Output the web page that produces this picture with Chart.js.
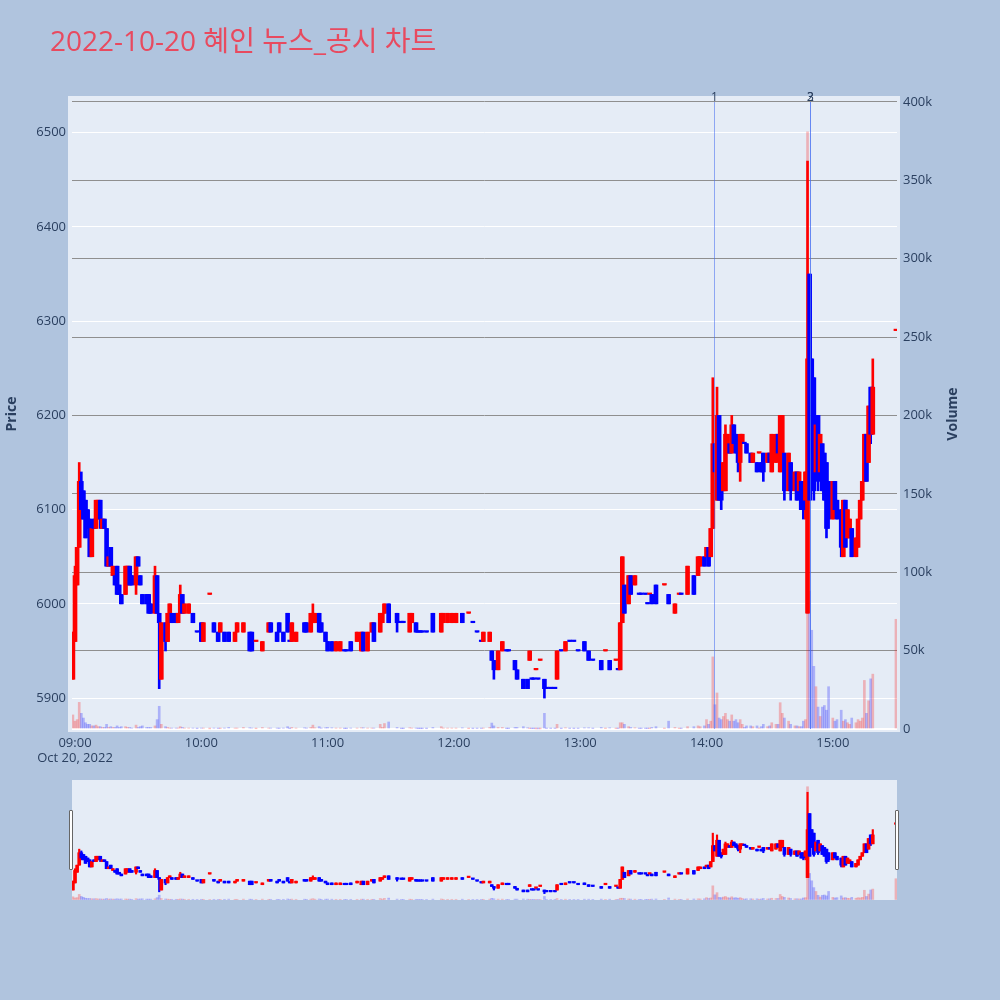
<!DOCTYPE html>
<html><head><meta charset="utf-8">
<script src="https://cdn.jsdelivr.net/npm/chart.js@4.4.0/dist/chart.umd.min.js"></script>
<style>
html,body{margin:0;padding:0;background:#b0c4de;}
#wrap{position:relative;width:1000px;height:1000px;background:#b0c4de;overflow:hidden;}
#main{position:absolute;left:0;top:0;}
#mini{position:absolute;left:72px;top:780px;}
.handle{position:absolute;width:2px;height:58px;top:810px;background:#fff;border:1px solid #666;border-radius:1px;}
</style></head><body>
<div id="wrap">
<canvas id="main" width="1000" height="770"></canvas>
<canvas id="mini" width="825" height="120"></canvas>
<div class="handle" style="left:69px"></div>
<div class="handle" style="left:895px"></div>
</div>
<script>
const TITLE = '2022-10-20 혜인 뉴스_공시 차트';
const DATE_LABEL = 'Oct 20, 2022';

// ---- candle data (1-minute) ----
const times = [
 '08:59','09:00','09:01','09:02','09:03','09:04','09:05','09:06','09:07','09:08','09:09','09:10','09:11','09:12','09:13','09:14','09:15','09:16','09:17','09:18','09:19','09:20','09:21','09:22','09:24','09:25','09:26','09:27','09:29','09:30','09:31','09:32','09:34','09:35','09:36','09:38','09:39','09:40','09:41','09:43','09:44','09:45','09:46','09:48','09:49','09:50','09:51','09:52','09:54','09:56','09:58',
 '10:00','10:01','10:04','10:06','10:08','10:09','10:11','10:13','10:16','10:17','10:20','10:23','10:24','10:26','10:29','10:32','10:33','10:36','10:37','10:39','10:41','10:42','10:43','10:45','10:49','10:50','10:52','10:53','10:54','10:56','10:57','10:59',
 '11:00','11:02','11:04','11:06','11:08','11:09','11:11','11:14','11:16','11:17','11:19','11:21','11:22','11:25','11:26','11:27','11:29','11:33','11:35','11:36','11:39','11:40','11:42','11:43','11:44','11:45','11:47','11:50','11:54','11:55','11:57','11:59',
 '12:01','12:04','12:07','12:09','12:11','12:13','12:14','12:17','12:18','12:19','12:21','12:23','12:25','12:26','12:29','12:30','12:33','12:35','12:36','12:37','12:38','12:39','12:40','12:41','12:43','12:44','12:46','12:48','12:49','12:51','12:53','12:55','12:57','12:59',
 '13:02','13:04','13:06','13:10','13:12','13:14','13:17','13:18','13:19','13:20','13:21','13:23','13:24','13:26','13:28','13:29','13:31','13:32','13:33','13:34','13:36','13:40','13:42','13:45','13:47','13:48','13:51','13:54','13:56','13:57','13:59',
 '14:00','14:01','14:02','14:03','14:04','14:05','14:06','14:07','14:08','14:09','14:10','14:11','14:12','14:13','14:14','14:15','14:16','14:17','14:18','14:19','14:21','14:22','14:24','14:25','14:26','14:27','14:29','14:30','14:31','14:33','14:34','14:35','14:36','14:37','14:39','14:40','14:42','14:43','14:44','14:45','14:46','14:47','14:48','14:49','14:50','14:51','14:52','14:53','14:54','14:55','14:56','14:57','14:58',
 '15:00','15:01','15:02','15:04','15:05','15:06','15:07','15:08','15:09','15:11','15:12','15:13','15:14','15:15','15:16','15:17','15:18','15:19','15:30'
];
const opens = [
 5920,5960,6020,6060,6130,6120,6110,6100,6090,6050,6090,6080,6090,6110,6080,6090,6080,6040,6060,6030,6030,6040,6020,6010, 6010,6020,6040,6030, 6020,6050,6030,6010, 6010,6010,6000, 5990,6030,5990,5920, 5980,5960,5990,5990, 5990,5980,5990,6010,5990, 5990,5990,5970,
 5980,5960,6010,5980,5970,5970,5970,5970, 5960,5970,5970,5970,5970,5960,5950, 5970,5980,5970,5980,5970, 5990,5960,5960,5960, 5980,5980,5970,5980,5980, 5990,5980,5970,
 5960,5960,5950,5950,5950,5950, 5960,5960,5950,5970,5950, 5970,5980,5970,5980,5990,6000, 5990,5980,5980,5970,5980,5980, 5970,5970,5970,5970, 5990,5970,5980,5980,5980,
 5980,5990,5990,5980,5970,5960, 5960,5960,5950,5940,5930,5950, 5950,5950,5940,5930,5920,5920, 5940,5920,5920,5930,5920,5940, 5920,5910,5910,5910,5920, 5950,5950,5960,5960,5950,
 5960,5950,5940,5940,5950,5940, 5940,5930,5930,5980,6020, 6000,6030,6020,6010,6010, 6010,6000,6010,6010,6020, 6020,6010,5990,6010,6010, 6010,6030,6030,6040,6050,
 6050,6060,6050,6080,6170,6110,6200,6130,6120,6120,6160,6170,6160,6190,6180,6170,6150,6170,6170,6170, 6160,6150,6150,6160,6150,6160, 6150,6160,6140,6150,6180, 6140,6160,6160,6120,6150, 6120,6140,6120,6130,6130,6110, 5990,6350,6260,6240,6140,6200,6140,6170,6160,6150,6130,
 6090,6130,6110,6100,6050,6110,6070,6070,6080,6050,6060,6090,6110,6130,6180,6150,6230,6180,6290
];
const highs = [
 5970,6040,6060,6150,6140,6120,6110,6100,6090,6080,6090,6110,6110,6110,6090,6090,6080,6050,6060,6040,6030,6040,6020,6010, 6040,6040,6040,6030, 6050,6050,6030,6010, 6010,6010,6000, 6040,6030,5990,5980, 5980,5990,6000,5990, 5990,5990,6020,6010,6000, 6000,5990,5970,
 5980,5980,6010,5980,5970,5980,5970,5970, 5970,5980,5980,5970,5970,5960,5960, 5980,5980,5970,5980,5970, 5990,5960,5980,5970, 5980,5980,5990,6000,5990, 5990,5980,5970,
 5960,5960,5960,5960,5950,5950, 5960,5970,5970,5970,5970, 5980,5980,5990,5990,6000,6000, 5990,5980,5980,5990,5990,5980, 5970,5970,5970,5970, 5990,5990,5990,5990,5990,
 5990,5990,5990,5980,5970,5960, 5970,5970,5950,5940,5950,5960, 5950,5950,5940,5930,5920,5920, 5950,5920,5920,5930,5920,5940, 5920,5910,5910,5910,5950, 5950,5960,5960,5960,5950,
 5960,5950,5940,5940,5950,5940, 5940,5930,5980,6050,6020, 6030,6030,6030,6010,6010, 6010,6000,6010,6010,6020, 6020,6010,6000,6010,6010, 6040,6030,6050,6050,6050,
 6060,6060,6080,6240,6170,6230,6200,6130,6150,6190,6180,6170,6200,6190,6180,6170,6180,6180,6170,6170, 6160,6160,6150,6160,6150,6160, 6160,6160,6180,6180,6180, 6200,6200,6160,6160,6150, 6140,6140,6140,6130,6130,6140, 6470,6350,6260,6240,6190,6200,6180,6170,6160,6150,6130,
 6130,6130,6110,6100,6110,6110,6100,6090,6080,6070,6090,6110,6130,6180,6180,6210,6230,6260,6290
];
const lows = [
 5920,5960,6020,6060,6090,6090,6070,6080,6050,6050,6080,6080,6090,6080,6080,6080,6040,6040,6040,6030,6020,6010,6010,6000, 6010,6020,6020,6020, 6010,6040,6020,6000, 6000,5990,5990, 5990,5990,5910,5920, 5950,5960,5990,5980, 5980,5980,5990,5990,5990, 5990,5980,5970,
 5960,5960,6010,5970,5960,5970,5960,5960, 5960,5970,5970,5950,5950,5960,5950, 5970,5970,5960,5970,5960, 5970,5960,5960,5960, 5970,5970,5970,5980,5980, 5970,5970,5960,
 5950,5950,5950,5950,5950,5950, 5950,5960,5950,5950,5950, 5970,5960,5970,5980,5990,5980, 5970,5980,5980,5970,5980,5970, 5970,5970,5970,5970, 5970,5970,5980,5980,5980,
 5980,5980,5990,5980,5970,5960, 5960,5960,5940,5920,5930,5950, 5950,5950,5930,5920,5910,5910, 5940,5920,5920,5930,5920,5940, 5900,5910,5910,5910,5920, 5950,5950,5960,5960,5950,
 5950,5940,5940,5930,5950,5930, 5940,5930,5930,5980,5990, 6000,6010,6020,6010,6010, 6010,6000,6010,6000,6000, 6020,6000,5990,6010,6010, 6010,6010,6030,6040,6040,
 6050,6040,6050,6080,6140,6110,6110,6100,6120,6120,6160,6160,6160,6170,6160,6140,6130,6170,6170,6160, 6150,6150,6140,6160,6140,6130, 6150,6150,6140,6150,6160, 6140,6160,6110,6120,6110, 6120,6110,6120,6100,6090,6090, 5990,6110,6160,6110,6140,6120,6140,6120,6110,6070,6080,
 6090,6100,6090,6050,6050,6060,6070,6070,6050,6050,6060,6090,6110,6130,6130,6150,6170,6180,6290
];
const closes = [
 5970,6030,6060,6130,6100,6090,6070,6080,6050,6080,6080,6110,6110,6090,6090,6080,6040,6050,6040,6040,6020,6010,6010,6000, 6040,6040,6020,6020, 6050,6040,6020,6000, 6000,5990,5990, 6030,5990,5980,5980, 5960,5990,6000,5980, 5980,5990,6010,5990,6000, 6000,5980,5970,
 5960,5980,6010,5970,5960,5980,5960,5960, 5970,5980,5980,5950,5950,5960,5960, 5980,5970,5960,5970,5960, 5970,5960,5980,5970, 5970,5970,5990,5990,5990, 5970,5970,5960,
 5950,5950,5960,5960,5950,5950, 5950,5970,5970,5950,5970, 5980,5960,5990,5990,6000,5980, 5980,5980,5980,5990,5990,5970, 5970,5970,5970,5970, 5970,5990,5990,5990,5990,
 5990,5980,5990,5980,5970,5960, 5970,5970,5940,5930,5950,5960, 5950,5950,5930,5920,5910,5910, 5950,5920,5920,5930,5920,5940, 5910,5910,5910,5910,5950, 5950,5960,5960,5960,5950,
 5950,5940,5940,5930,5950,5930, 5940,5930,5980,6050,5990, 6030,6010,6030,6010,6010, 6010,6000,6010,6000,6000, 6020,6000,6000,6010,6010, 6040,6010,6050,6050,6040,
 6060,6040,6080,6170,6140,6200,6110,6110,6150,6180,6180,6160,6190,6170,6160,6150,6180,6180,6170,6160, 6150,6160,6140,6160,6140,6140, 6160,6150,6180,6180,6160, 6200,6200,6120,6160,6120, 6140,6110,6140,6100,6100,6140, 6260,6110,6160,6120,6190,6130,6180,6120,6110,6080,6090,
 6130,6100,6090,6060,6110,6060,6100,6090,6050,6070,6090,6110,6130,6180,6130,6210,6180,6230,6290
];
const volumes = [
 9000,5000,6000,17000,10000,7000,4000,3000,3000,2000,2000,2500,1500,1500,1000,1000,3000,1000,1500,1000,1000,2000,1000,1500, 1500,1000,1000,500, 2500,1000,1500,2000, 1000,1000,1000, 2000,6000,14500,3000, 1500,1000,500,500, 500,500,1500,1000,500, 500,500,200,
 500,500,100,500,300,300,500,1000, 500,500,1000,800,600,200,1000, 500,500,500,300,500, 1500,200,1000,500, 800,500,1000,2500,800, 1500,500,800,
 1000,800,500,500,200,200, 500,500,800,800,500, 500,500,3000,1000,3500,4500, 1000,200,200,800,500,500, 200,200,200,200, 1000,1500,500,500,500,
 500,800,200,200,300,300, 500,1000,3800,2000,1000,1000, 200,200,1000,1000,1500,800, 300,200,200,100,100,100, 10000,300,300,300,3000, 200,800,300,200,300,
 800,800,300,1000,300,800, 300,300,4000,4000,3000, 1500,1000,800,300,300, 300,300,300,1000,1500, 300,5000,1000,300,300, 1500,1500,2000,1500,2000,
 6000,3000,5000,46000,15500,23000,7000,6000,8000,10000,6000,5000,9000,5000,6000,4000,6000,3000,1000,2000, 2000,1500,2000,500,1500,3000, 1500,2000,4000,3000,3000, 16800,10000,7000,5000,3000, 2000,2000,1500,1500,5000,6000, 381000,88000,63000,40000,27000,14000,8000,14000,15000,12000,27000,
 7000,5000,6000,12000,5000,6000,4000,3000,7000,4000,6000,5000,7000,31000,10000,18000,32000,35000,70000
];

// ---- axes ----
const priceTicks = [5900,6000,6100,6200,6300,6400,6500];
const volumeTicks = [0,50000,100000,150000,200000,250000,300000,350000,400000];
const timeTicks = ['09:00','10:00','11:00','12:00','13:00','14:00','15:00'];

// ---- news / disclosure markers ----
const newsTimes = ['14:03:35','14:49:10','14:49:10'];
const newsLabels = ['1','2','3'];

[opens,highs,lows,closes,volumes].forEach(a=>{ if(a.length!==times.length) throw new Error('length mismatch '+a.length+' vs '+times.length); });

Chart.defaults.font.family = '"Open Sans", "Noto Sans CJK KR", sans-serif';
const AX = '#2a3f5f';
function toMin(t){ const p=t.split(':').map(Number); return (p[0]-9)*60+p[1]+(p[2]||0)/60; }
const xs = times.map(toMin);
const up = closes.map((c,i)=> c>opens[i] || (c===opens[i] && i>0 && c>closes[i-1]));
const candleCol = up.map(u=>u?'#ff0000':'#0000ff');
const volCol = up.map(u=>u?'rgba(255,0,0,0.25)':'rgba(0,0,255,0.25)');

function makeDatasets(bodyW, wickW, volW){
  return [
    {label:'Volume', yAxisID:'yV', data: xs.map((x,i)=>({x:x, y:volumes[i]})), backgroundColor: volCol, barThickness: volW, grouped:false, order:3},
    {label:'wick', yAxisID:'y', data: xs.map((x,i)=>({x:x, y:[lows[i],highs[i]]})), backgroundColor: candleCol, barThickness: wickW, grouped:false, order:2},
    {label:'body', yAxisID:'y', data: xs.map((x,i)=>({x:x, y:[opens[i],closes[i]]})), backgroundColor: candleCol, barThickness: bodyW, minBarLength:1.5, grouped:false, order:1}
  ];
}
const X_MIN=-1.43, X_MAX=390.5, P_MIN=5864, P_MAX=6539, V_MIN=-1900, V_MAX=403800;

const mainDeco = {
  id:'mainDeco',
  beforeDraw(chart){
    const {ctx, chartArea:a} = chart;
    ctx.save(); ctx.fillStyle='#e5ecf6';
    ctx.fillRect(a.left-4, a.top, a.right-a.left+7, a.bottom-a.top);
    ctx.restore();
  },
  afterDatasetsDraw(chart){
    const {ctx} = chart; const xS = chart.scales.x, vS = chart.scales.yV;
    ctx.save();
    newsTimes.forEach((t,i)=>{
      const x = Math.round(xS.getPixelForValue(toMin(t)))+0.5;
      const y0 = vS.getPixelForValue(400000), y1 = vS.getPixelForValue(0);
      ctx.strokeStyle='rgba(70,110,240,0.55)'; ctx.lineWidth=1;
      ctx.beginPath(); ctx.moveTo(x,y0); ctx.lineTo(x,y1); ctx.stroke();
      ctx.fillStyle=AX; ctx.font='12px "Open Sans"'; ctx.textAlign='center'; ctx.textBaseline='alphabetic';
      ctx.fillText(newsLabels[i], x, y0-1);
    });
    ctx.restore();
  },
  afterDraw(chart){
    const {ctx, chartArea:a} = chart;
    ctx.save(); ctx.fillStyle='#e84a5f'; ctx.font='28px "Open Sans", "Noto Sans CJK KR"';
    ctx.textAlign='left'; ctx.textBaseline='alphabetic';
    ctx.fillText(TITLE, 50, 51); ctx.restore();
    // right axis title, reading bottom-to-top like the left one
    ctx.save(); ctx.translate(953, (a.top+a.bottom)/2); ctx.rotate(-Math.PI/2);
    ctx.fillStyle=AX; ctx.font='bold 14px "Open Sans"'; ctx.textAlign='center'; ctx.textBaseline='middle';
    ctx.fillText('Volume', 0, 0); ctx.restore();
  }
};

new Chart(document.getElementById('main'), {
  type:'bar',
  data:{ datasets: makeDatasets(4, 2, 2) },
  options:{
    responsive:false, animation:false,
    layout:{ padding:{ top:96, right:35, left:0, bottom:0 } },
    plugins:{ legend:{display:false}, tooltip:{enabled:false} },
    scales:{
      x:{ type:'linear', min:X_MIN, max:X_MAX, offset:false,
          grid:{display:false, offset:false, drawTicks:false}, border:{display:false},
          afterBuildTicks: s=>{ s.ticks = timeTicks.map(t=>({value:toMin(t)})); },
          ticks:{ color:AX, font:{size:13}, padding:3, maxRotation:0, autoSkip:false,
                  callback:(v,i)=> i===0 ? [timeTicks[0], DATE_LABEL] : timeTicks[i] },
          afterFit: s=>{ s.height = 38; } },
      y:{ position:'left', min:P_MIN, max:P_MAX,
          afterBuildTicks: s=>{ s.ticks = priceTicks.map(v=>({value:v})); },
          grid:{ color:'#ffffff', lineWidth:1, drawTicks:false }, border:{display:false},
          ticks:{ color:AX, font:{size:13}, padding:6, callback: v=> String(v) },
          title:{ display:true, text:'Price', color:AX, font:{size:14, weight:'bold'} },
          afterFit: s=>{ s.width = 72; } },
      yV:{ position:'right', min:V_MIN, max:V_MAX,
          afterBuildTicks: s=>{ s.ticks = volumeTicks.map(v=>({value:v})); },
          grid:{ color: c=> c.tick && c.tick.value===0 ? '#ffffff' : '#8f8f8f',
                 lineWidth: c=> c.tick && c.tick.value===0 ? 2 : 1, drawTicks:false }, border:{display:false},
          ticks:{ color:AX, font:{size:13}, padding:6, callback: v=> v===0 ? '0' : (v/1000)+'k' },
          title:{ display:false },
          afterFit: s=>{ s.width = 68; } }
    }
  },
  plugins:[mainDeco]
});

const miniDeco = {
  id:'miniDeco',
  beforeDraw(chart){ const {ctx,width,height}=chart; ctx.save(); ctx.fillStyle='#e5ecf6'; ctx.fillRect(0,0,width,height); ctx.restore(); }
};
new Chart(document.getElementById('mini'), {
  type:'bar',
  data:{ datasets: makeDatasets(3, 1.5, 2) },
  options:{
    responsive:false, animation:false,
    layout:{ padding:0 },
    plugins:{ legend:{display:false}, tooltip:{enabled:false} },
    scales:{
      x:{ type:'linear', min:X_MIN, max:X_MAX, offset:false, display:false },
      y:{ min:P_MIN, max:P_MAX, display:false },
      yV:{ position:'right', min:V_MIN, max:V_MAX, display:false }
    }
  },
  plugins:[miniDeco]
});
</script>
</body></html>
